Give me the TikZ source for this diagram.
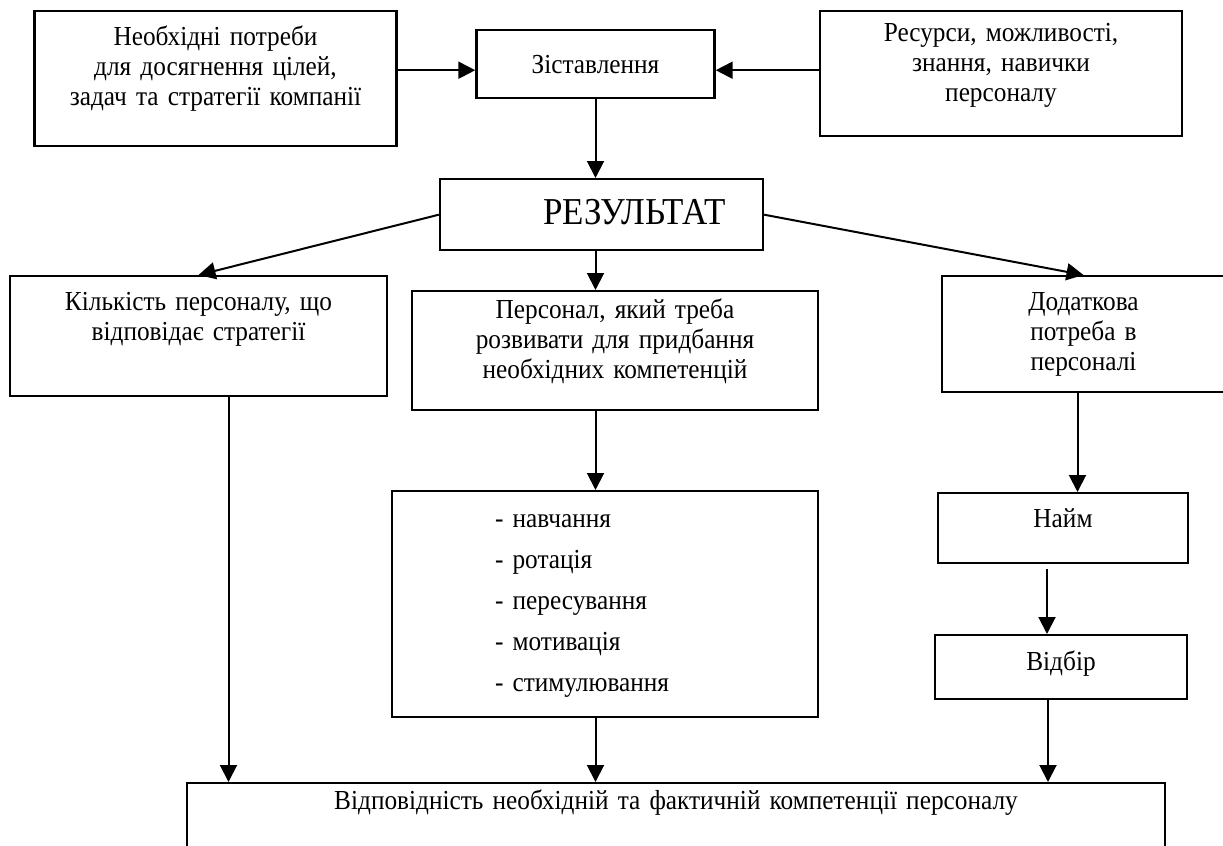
\documentclass[tikz,border=0pt]{standalone}
\usepackage{fontspec}
\setmainfont[FakeStretch=0.92]{Liberation Serif}
\usetikzlibrary{arrows.meta,positioning}

\tikzset{
  box/.style={draw, line width=1.2pt, align=center, inner xsep=4pt, inner ysep=0pt,
    font=\fontsize{13.75}{15}\selectfont},
  link/.style={line width=1pt}
}

\begin{document}
\begin{tikzpicture}[x=0.5pt,y=-0.5pt,>={Triangle[length=8.5pt,width=8.5pt]}]
\useasboundingbox (0,0) rectangle (1223,846);

% top row
\node[box, anchor=north, text width=173pt, text height=17pt, text depth=50.5pt] (needs) at (215.5,10)
  {Необхідні потреби\\для досягнення цілей,\\задач та стратегії компанії};
\node[box, anchor=north, text width=111pt, text height=21.5pt, text depth=12.5pt] (cmp) at (595.5,29)
  {Зіставлення\hspace*{20pt}};
\node[box, anchor=north, text width=173pt, text height=15pt, text depth=47.5pt] (res) at (1001,10)
  {Ресурси, можливості,\\знання, навички\\персоналу};

% the result
\node[box, anchor=north, text width=153.5pt, text height=22.75pt, text depth=12.75pt,
  font=\fontsize{19}{20}\selectfont] (result) at (601.5,178)
  {\hspace*{33pt}РЕЗУЛЬТАТ};

% second row
\node[box, anchor=north, text width=180.5pt, text height=17pt, text depth=43pt] (count) at (198.5,275)
  {Кількість персоналу, що\\відповідає стратегії};
\node[box, anchor=north, text width=195pt, text height=13.5pt, text depth=46pt] (dev) at (615,290)
  {Персонал, який треба\\розвивати для придбання\\необхідних компетенцій};
\node[box, anchor=north, text width=133.5pt, text height=17pt, text depth=41pt] (extra) at (1083.5,275)
  {Додаткова\\потреба в\\персоналі};

% the ways to develop
\node[box, anchor=north, align=left, text width=205pt, text height=18pt, text depth=95pt,
  font=\fontsize{13.75}{20.5}\selectfont] (list) at (605,490)
  {\hspace*{47.5pt}- навчання\\\hspace*{47.5pt}- ротація\\\hspace*{47.5pt}- пересування\\
   \hspace*{47.5pt}- мотивація\\\hspace*{47.5pt}- стимулювання};

% hiring
\node[box, anchor=north, text width=117pt, text height=17pt, text depth=18pt] (hire) at (1063,492) {Найм};
\node[box, anchor=north, text width=118pt, text height=17.5pt, text depth=14.5pt] (select) at (1061,634) {Відбір};

% the bottom box
\node[box, anchor=north, text width=481pt, text height=13pt, text depth=50pt] (bottom) at (676,782)
  {Відповідність необхідній та фактичній компетенції персоналу};

% arrows into the comparison
\coordinate (cmpin) at ([yshift=-3pt]cmp.west);
\coordinate (cmpout) at ([yshift=-3pt]cmp.east);
\draw[link,->] (needs.east |- cmpin) -- (cmpin);
\draw[link,->] (res.west |- cmpout) -- (cmpout);

% middle column
\draw[link,->] (cmp.south) -- (cmp.south |- result.north);
\foreach \a/\b in {result/dev, dev/list, list/bottom}
  \draw[link,->] (cmp.south |- \a.south) -- (cmp.south |- \b.north);

% from the result to the sides
\draw[link,->] (result.west) -- (count.north);
\draw[link,->] (result.east) -- (extra.north);

% down to the bottom box
\draw[link,->] ([xshift=15pt]count.south) -- ([xshift=15pt]count.south |- bottom.north);
\draw[link,->] ([xshift=-3pt]extra.south) -- ([xshift=-3pt]extra.south |- hire.north);
\draw[link,->] ([xshift=-8pt,yshift=-2.5pt]hire.south) -- ([xshift=-8pt]hire.south |- select.north);
\draw[link,->] ([xshift=-6.5pt]select.south) -- ([xshift=-6.5pt]select.south |- bottom.north);
\end{tikzpicture}
\end{document}
